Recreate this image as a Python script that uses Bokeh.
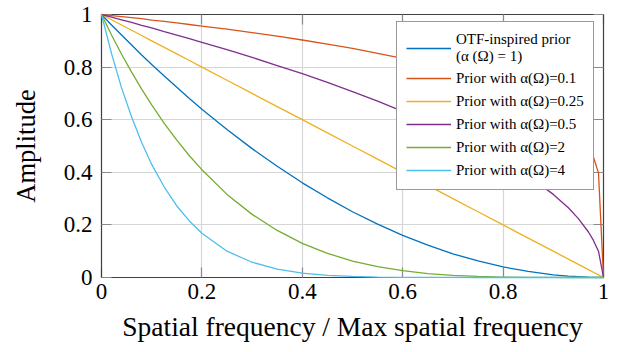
from bokeh.plotting import figure
from bokeh.models import Legend, LegendItem, LinearAxis, FixedTicker, Range1d
from bokeh.embed import file_html
from bokeh.resources import INLINE

# ---- data ----
freq = [0, 0.02, 0.04, 0.06, 0.08, 0.1, 0.125, 0.15, 0.175, 0.2, 0.25, 0.3, 0.35,
        0.4, 0.45, 0.5, 0.55, 0.6, 0.65, 0.7, 0.75, 0.8, 0.85, 0.9, 0.93, 0.95,
        0.97, 0.98, 0.99, 1.0]

otf_prior = [1, 0.960, 0.922, 0.884, 0.846, 0.81, 0.766, 0.723, 0.681, 0.64, 0.563,
             0.49, 0.423, 0.36, 0.303, 0.25, 0.203, 0.16, 0.123, 0.09, 0.063, 0.04,
             0.023, 0.01, 0.005, 0.003, 0.001, 0.0004, 0.0001, 0]
prior_01 = [1, 0.996, 0.992, 0.988, 0.984, 0.979, 0.974, 0.968, 0.962, 0.956, 0.944,
            0.931, 0.918, 0.903, 0.887, 0.871, 0.852, 0.833, 0.811, 0.786, 0.758,
            0.725, 0.684, 0.631, 0.588, 0.549, 0.496, 0.457, 0.398, 0]
prior_025 = [1, 0.98, 0.96, 0.94, 0.92, 0.9, 0.875, 0.85, 0.825, 0.8, 0.75, 0.7, 0.65,
             0.6, 0.55, 0.5, 0.45, 0.4, 0.35, 0.3, 0.25, 0.2, 0.15, 0.1, 0.07, 0.05,
             0.03, 0.02, 0.01, 0]
prior_05 = [1, 0.990, 0.980, 0.970, 0.959, 0.949, 0.935, 0.922, 0.908, 0.894, 0.866,
            0.837, 0.806, 0.775, 0.742, 0.707, 0.671, 0.632, 0.592, 0.548, 0.5, 0.447,
            0.387, 0.316, 0.265, 0.224, 0.173, 0.141, 0.1, 0]
prior_2 = [1, 0.922, 0.849, 0.781, 0.716, 0.656, 0.586, 0.522, 0.463, 0.410, 0.316,
           0.240, 0.179, 0.130, 0.092, 0.0625, 0.041, 0.026, 0.015, 0.008, 0.004,
           0.0016, 0.0005, 0.0001, 0, 0, 0, 0, 0, 0]
prior_4 = [1, 0.851, 0.721, 0.610, 0.513, 0.430, 0.344, 0.272, 0.215, 0.168, 0.100,
           0.058, 0.032, 0.017, 0.008, 0.004, 0.0017, 0.0007, 0.0002, 0.0001, 0, 0, 0,
           0, 0, 0, 0, 0, 0, 0]

series_labels = ["OTF-inspired prior\n(\u03b1 (\u03a9) = 1)",
                 "Prior with \u03b1(\u03a9)=0.1",
                 "Prior with \u03b1(\u03a9)=0.25",
                 "Prior with \u03b1(\u03a9)=0.5",
                 "Prior with \u03b1(\u03a9)=2",
                 "Prior with \u03b1(\u03a9)=4"]
series_values = [otf_prior, prior_01, prior_025, prior_05, prior_2, prior_4]
series_colors = ["#0072BD", "#D95319", "#EDB120", "#7E2F8E", "#77AC30", "#4DBEEE"]

ticks = [0, 0.2, 0.4, 0.6, 0.8, 1]
tick_labels = ["0", "0.2", "0.4", "0.6", "0.8", "1"]

x_title = "Spatial frequency / Max spatial frequency"
y_title = "Amplitude"

FONT = "Liberation Serif"

p = figure(width=610, height=344, output_backend="svg", toolbar_location=None,
           x_range=Range1d(0, 1), y_range=Range1d(0, 1),
           x_axis_location=None, y_axis_location=None,
           min_border_left=101, min_border_right=7, min_border_top=14,
           min_border_bottom=66)
p.background_fill_color = "white"
p.border_fill_color = "white"
p.outline_line_color = "#404040"
p.outline_line_width = 1

overrides = dict(zip([float(t) for t in ticks], tick_labels))

def style_axis(ax, show_labels):
    ax.ticker = FixedTicker(ticks=ticks)
    ax.major_label_overrides = overrides
    ax.minor_tick_line_color = None
    ax.major_tick_in = 10
    ax.major_tick_out = 0
    ax.major_tick_line_color = "#8a8a8a"
    ax.major_tick_line_width = 1.2
    ax.axis_line_color = "#404040"
    ax.axis_line_width = 1.2
    ax.major_label_text_font = FONT
    ax.major_label_text_color = "black"
    ax.axis_label_text_font = FONT
    ax.axis_label_text_font_style = "normal"
    ax.axis_label_text_color = "black"
    if not show_labels:
        ax.major_label_text_font_size = "1px"
        ax.major_label_text_color = None
        ax.major_label_standoff = 0

xb = LinearAxis(axis_label=x_title)
style_axis(xb, True)
xb.major_label_text_font_size = "23px"
xb.major_label_standoff = 6
xb.axis_label_text_font_size = "27.5px"
xb.axis_label_standoff = 9
p.add_layout(xb, "below")

yl = LinearAxis(axis_label=y_title)
style_axis(yl, True)
yl.major_label_text_font_size = "23px"
yl.major_label_standoff = 9
yl.axis_label_text_font_size = "26.5px"
yl.axis_label_standoff = 20
p.add_layout(yl, "left")

xt = LinearAxis()
style_axis(xt, False)
p.add_layout(xt, "above")
yr = LinearAxis()
style_axis(yr, False)
p.add_layout(yr, "right")

p.xgrid.ticker = FixedTicker(ticks=ticks)
p.ygrid.ticker = FixedTicker(ticks=ticks)
p.xgrid.grid_line_color = "#d6d6d6"
p.ygrid.grid_line_color = "#d6d6d6"
p.xgrid.grid_line_width = 1.2
p.ygrid.grid_line_width = 1.2

items = []
for lab, vals, col in zip(series_labels, series_values, series_colors):
    r = p.line(freq, vals, line_color=col, line_width=1.3, level="annotation")
    items.append(LegendItem(label=lab, renderers=[r]))

legend = Legend(items=items, location=(295, 87))
legend.label_text_font = FONT
legend.label_text_font_size = "15px"
legend.label_text_color = "black"
legend.label_standoff = 5
legend.glyph_width = 45
legend.glyph_height = 20
legend.label_height = 20
legend.spacing = 3
legend.padding = 9
legend.margin = 0
legend.border_line_color = "#333333"
legend.border_line_width = 1
legend.background_fill_color = "white"
legend.background_fill_alpha = 1.0
p.add_layout(legend, "center")

open("out.html", "w").write(file_html(p, INLINE))
